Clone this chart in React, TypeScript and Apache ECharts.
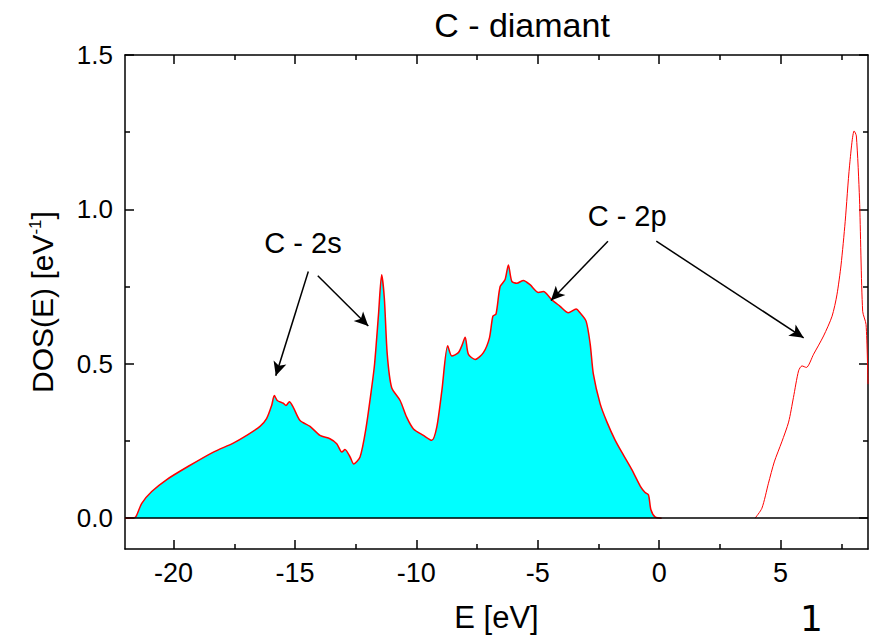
import React, { useEffect, useRef } from "react";
import * as echarts from "echarts";

const valenceE = [
  -22, -21.7, -21.55, -21.31, -20.9, -20.28, -19.39, -18.36, -17.54, -16.99,
  -16.44, -16.17, -15.96, -15.85, -15.73, -15.48, -15.37, -15.23, -15.07, -14.79,
  -14.38, -13.97, -13.56, -13.28, -13.07, -12.94, -12.73, -12.58, -12.32, -12.08,
  -11.84, -11.72, -11.56, -11.43, -11.32, -11.2, -11.02, -10.67, -10.4, -10.12,
  -9.71, -9.37, -9.16, -8.95, -8.71, -8.54, -8.27, -8.13, -7.99, -7.86,
  -7.58, -7.24, -6.99, -6.85, -6.72, -6.55, -6.35, -6.21, -6.07, -5.86,
  -5.59, -5.32, -4.97, -4.77, -4.42, -4.08, -3.74, -3.42, -3.26, -3.01,
  -2.84, -2.71, -2.43, -2.15, -1.81, -1.47, -1.12, -0.78, -0.58, -0.44,
  -0.34, -0.16, 0.1,
];
const valenceDos = [
  0, 0, 0.005, 0.048, 0.086, 0.125, 0.168, 0.214, 0.243, 0.268,
  0.297, 0.322, 0.365, 0.397, 0.381, 0.372, 0.365, 0.377, 0.359, 0.316,
  0.297, 0.268, 0.257, 0.241, 0.214, 0.222, 0.198, 0.175, 0.198, 0.289,
  0.423, 0.5, 0.659, 0.788, 0.713, 0.531, 0.423, 0.381, 0.327, 0.289,
  0.268, 0.252, 0.295, 0.413, 0.558, 0.525, 0.536, 0.558, 0.586, 0.531,
  0.514, 0.536, 0.584, 0.654, 0.661, 0.75, 0.772, 0.82, 0.767, 0.761,
  0.77, 0.756, 0.731, 0.734, 0.707, 0.686, 0.665, 0.677, 0.665, 0.638,
  0.563, 0.466, 0.37, 0.311, 0.252, 0.204, 0.156, 0.104, 0.083, 0.075,
  0.027, 0.003, 0,
];

const conductionE = [
  3.95, 4.23, 4.5, 4.74, 5.05, 5.33, 5.53, 5.74, 5.88, 6.06, 6.36, 6.77,
  7.12, 7.32, 7.49, 7.66, 7.84, 8.03, 8.12, 8.25, 8.38, 8.52, 8.6,
];
const conductionDos = [
  0, 0.032, 0.113, 0.182, 0.247, 0.311, 0.391, 0.477, 0.493, 0.488, 0.531, 0.59,
  0.654, 0.723, 0.82, 0.96, 1.141, 1.254, 1.238, 1.034, 0.67, 0.627, 0.434,
];

const xRange = [-22, 8.6];
const yRange = [-0.1, 1.5];
const xMajorTicks = [-20, -15, -10, -5, 0, 5];
const xMinorTicks = [-17.5, -12.5, -7.5, -2.5, 2.5, 7.5];
const yMajorTicks = [0, 0.5, 1.0, 1.5];
const yMinorTicks = [0.25, 0.75, 1.25];

// annotation arrows: [fromE, fromDos, toE, toDos]
const arrows2s = [
  [-14.45, 0.799, -15.79, 0.461],
  [-14.06, 0.785, -11.98, 0.622],
];
const arrows2p = [
  [-2.11, 0.897, -4.46, 0.705],
  [-0.12, 0.897, 5.95, 0.584],
];
const annotationLabels = [
  { text: "C - 2s", e: -14.67, dos: 0.892 },
  { text: "C - 2p", e: -1.32, dos: 0.977 },
];

const FONT = "'Liberation Sans', Arial, Helvetica, sans-serif";

export default function App() {
  const ref = useRef<HTMLDivElement>(null);
  useEffect(() => {
    if (!ref.current) return;
    const chart = echarts.init(ref.current, null, { renderer: "svg" });

    const axisLine = { show: true, onZero: false, lineStyle: { color: "#000", width: 1.5 } };
    const noLine = { show: false, onZero: false };
    const mkX = (pos: string, ticks: number[], len: number, labels: boolean, line: boolean, extra: any = {}) => ({
      type: "value",
      position: pos,
      min: xRange[0],
      max: xRange[1],
      axisLine: line ? axisLine : noLine,
      axisTick: { show: true, inside: true, length: len, customValues: ticks, lineStyle: { color: "#000", width: 1.5 } },
      axisLabel: labels
        ? { show: true, customValues: ticks, color: "#000", fontSize: 27, fontFamily: FONT, margin: 10, formatter: (v: number) => String(v) }
        : { show: false },
      splitLine: { show: false },
      ...extra,
    });
    const mkY = (pos: string, ticks: number[], len: number, labels: boolean, line: boolean, extra: any = {}) => ({
      type: "value",
      position: pos,
      min: yRange[0],
      max: yRange[1],
      axisLine: line ? axisLine : noLine,
      axisTick: { show: true, inside: true, length: len, customValues: ticks, lineStyle: { color: "#000", width: 1.5 } },
      axisLabel: labels
        ? { show: true, customValues: ticks, color: "#000", fontSize: 26, fontFamily: FONT, margin: 12, formatter: (v: number) => v.toFixed(1) }
        : { show: false },
      splitLine: { show: false },
      ...extra,
    });

    const arrowLines = [...arrows2s, ...arrows2p].map((a) => [
      { coord: [a[0], a[1]], symbol: "none" },
      { coord: [a[2], a[3]], symbol: "arrow" },
    ]);

    chart.setOption({
      animation: false,
      backgroundColor: "#fff",
      title: {
        text: "C - diamant",
        left: 517,
        top: 3,
        textAlign: "center",
        textStyle: { fontFamily: FONT, fontSize: 34, fontWeight: "normal", color: "#000" },
      },
      grid: { left: 125, right: 6, top: 55, bottom: 86, containLabel: false },
      xAxis: [
        mkX("bottom", xMajorTicks, 9, true, true, {
          name: "E [eV]",
          nameLocation: "middle",
          nameGap: 53,
          nameTextStyle: { fontFamily: FONT, fontSize: 31, color: "#000" },
        }),
        mkX("bottom", xMinorTicks, 5, false, false),
        mkX("top", xMajorTicks, 9, false, true),
        mkX("top", xMinorTicks, 5, false, false),
      ],
      yAxis: [
        mkY("left", yMajorTicks, 9, true, true, {
          name: "DOS(E) [eV{sup|-1}]",
          nameLocation: "middle",
          nameGap: 68,
          nameRotate: 90,
          nameTextStyle: {
            fontFamily: FONT,
            fontSize: 30,
            color: "#000",
            rich: { sup: { fontFamily: FONT, fontSize: 17, color: "#000", verticalAlign: "top", padding: [0, 0, 13, 0] } },
          },
        }),
        mkY("left", yMinorTicks, 5, false, false),
        mkY("right", yMajorTicks, 9, false, true),
        mkY("right", yMinorTicks, 5, false, false),
      ],
      series: [
        {
          type: "line",
          xAxisIndex: 0,
          yAxisIndex: 0,
          data: valenceE.map((e, i) => [e, valenceDos[i]]),
          showSymbol: false,
          symbol: "none",
          smooth: 0.25,
          lineStyle: { color: "#ff0000", width: 1.5 },
          areaStyle: { color: "#00ffff", opacity: 1 },
          z: 2,
        },
        {
          type: "line",
          xAxisIndex: 0,
          yAxisIndex: 0,
          data: conductionE.map((e, i) => [e, conductionDos[i]]),
          showSymbol: false,
          symbol: "none",
          smooth: 0.25,
          lineStyle: { color: "#ff0000", width: 1 },
          z: 2,
          markLine: {
            silent: true,
            animation: false,
            symbol: ["none", "none"],
            label: { show: false },
            lineStyle: { color: "#000", width: 1.5, type: "solid" },
            data: [[{ coord: [xRange[0], 0] }, { coord: [xRange[1], 0] }]],
          },
        },
        {
          type: "line",
          xAxisIndex: 0,
          yAxisIndex: 0,
          data: [],
          markLine: {
            silent: true,
            animation: false,
            symbolSize: [10, 14],
            label: { show: false },
            lineStyle: { color: "#000", width: 1.5, type: "solid" },
            data: arrowLines,
          },
          markPoint: {
            silent: true,
            animation: false,
            symbol: "circle",
            symbolSize: 0,
            label: {
              show: true,
              position: "inside",
              color: "#000",
              fontFamily: FONT,
              fontSize: 29,
              formatter: (p: any) => p.name,
            },
            data: annotationLabels.map((l) => ({ name: l.text, coord: [l.e, l.dos] })),
          },
        },
      ],
      graphic: [
        {
          type: "text",
          left: 800,
          top: 600,
          style: { text: "1", fontFamily: "'DejaVu Sans', sans-serif", fontSize: 36, fill: "#000" },
        },
      ],
    });
    return () => chart.dispose();
  }, []);
  return <div ref={ref} style={{ width: 874, height: 638, position: "absolute", left: 0, top: 0 }} />;
}
